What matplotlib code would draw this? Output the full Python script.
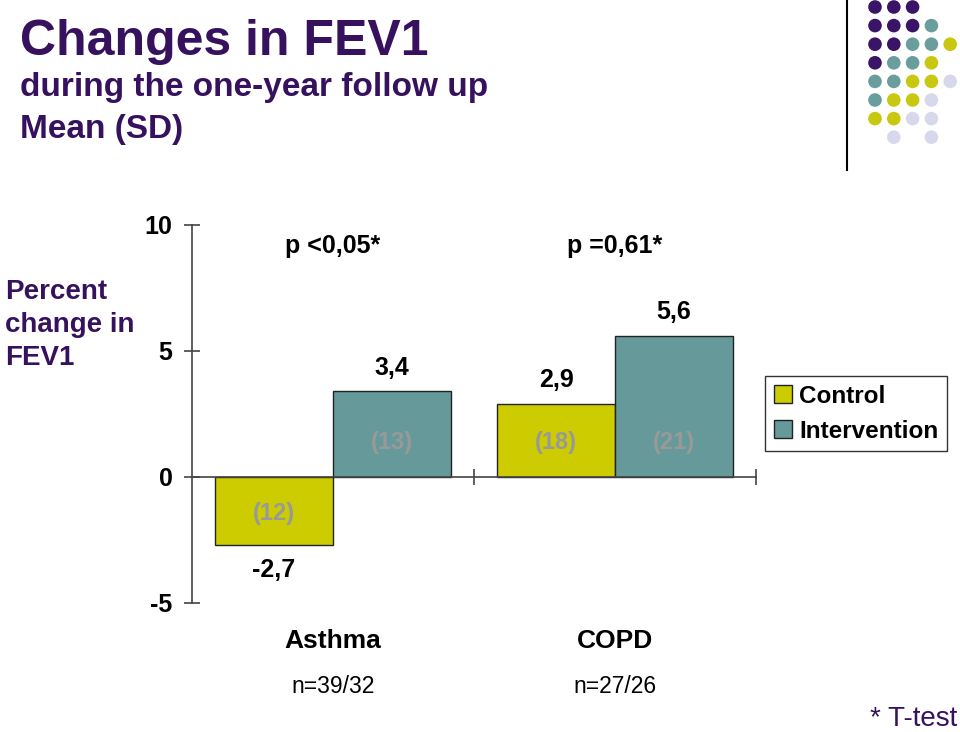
import numpy as np
import matplotlib.pyplot as plt
from matplotlib.patches import Circle
from matplotlib.lines import Line2D

plt.rcParams.update({'font.family': 'Liberation Sans'})

# data
groups = ['Asthma', 'COPD']
n_labels = ['n=39/32', 'n=27/26']
series = ['Control', 'Intervention']
control = [-2.7, 2.9]
intervention = [3.4, 5.6]
control_sd = [12, 18]
intervention_sd = [13, 21]
p_values = ['p <0,05*', 'p =0,61*']

purple = '#36115e'
colors = ['#cccc00', '#669999']
dot_colors = {'P': '#3a1466', 'T': '#6a9e9c', 'Y': '#c8c810', 'L': '#d8d8ec'}
dot_grid = ['PPP..', 'PPPT.', 'PPTTY', 'PTTY.', 'TTYYL', 'TYYL.', 'YYLL.', '.L.L.']

W, H = 960, 732
fig = plt.figure(figsize=(W / 100, H / 100), dpi=100)


def fx(x):
    return x / W


def fy(y):
    return 1 - y / H


# titles
fig.text(fx(20), fy(55), 'Changes in FEV1', fontsize=36, fontweight='bold', color=purple, va='baseline')
fig.text(fx(20), fy(96), 'during the one-year follow up', fontsize=24, fontweight='bold', color=purple, va='baseline')
fig.text(fx(20), fy(138), 'Mean (SD)', fontsize=24, fontweight='bold', color=purple, va='baseline')
fig.text(fx(5), fy(279), 'Percent\nchange in\nFEV1', fontsize=20, fontweight='bold', color=purple,
         va='top', linespacing=1.35)
fig.text(fx(957), fy(726), '* T-test', fontsize=20, color=purple, ha='right', va='baseline')

# main axes
ax = fig.add_axes([fx(192), fy(603), (756 - 192) / W, (603 - 225) / H])
x = np.arange(len(groups))
bw = 0.418
b1 = ax.bar(x - bw / 2, control, bw, color=colors[0], edgecolor='#222222', linewidth=1, label=series[0], zorder=2)
b2 = ax.bar(x + bw / 2, intervention, bw, color=colors[1], edgecolor='#222222', linewidth=1, label=series[1], zorder=2)

ax.set_xlim(-0.5, 1.5)
ax.set_ylim(-5, 10)
ax.set_yticks([-5, 0, 5, 10])
ax.set_yticklabels(['-5', '0', '5', '10'], fontsize=18, fontweight='bold')
ax.set_xticks([0.5, 1.5])
ax.set_xticklabels([])
ax.tick_params(axis='both', direction='inout', length=12, width=1.2, color='#444444')
ax.tick_params(axis='y', pad=8)
ax.spines['top'].set_visible(False)
ax.spines['right'].set_visible(False)
ax.spines['bottom'].set_position(('data', 0))
for s in ['left', 'bottom']:
    ax.spines[s].set_color('#444444')
    ax.spines[s].set_linewidth(1.2)
    ax.spines[s].set_zorder(3)

# value labels
for bars, vals, sds in [(b1, control, control_sd), (b2, intervention, intervention_sd)]:
    for b, v, sd in zip(bars, vals, sds):
        cx = b.get_x() + b.get_width() / 2
        off = 17 if v > 0 else -18
        ax.annotate(f'{v}'.replace('.', ','), (cx, v), xytext=(0, off), textcoords='offset points',
                    ha='center', va='center', fontsize=18, fontweight='bold')
        ax.text(cx, 1.35 if v > 0 else -1.45, f'({sd})', ha='center', va='center',
                fontsize=17, fontweight='bold', color='#999999', zorder=4)

# p-values and group labels
for xi, p, g, n in zip(x, p_values, groups, n_labels):
    ax.text(xi, 9.15, p, ha='center', va='center', fontsize=18, fontweight='bold')
    ax.text(xi, -0.1, g, transform=ax.get_xaxis_transform(), ha='center', va='center',
            fontsize=19, fontweight='bold')
    ax.text(xi, -0.222, n, transform=ax.get_xaxis_transform(), ha='center', va='center', fontsize=16.5)

# legend
leg = fig.legend(handles=[b1, b2], loc='upper left', bbox_to_anchor=(fx(765), fy(376)),
                 prop={'weight': 'bold', 'size': 17.5}, frameon=True, fancybox=False,
                 edgecolor='black', borderaxespad=0, handlelength=0.75, handleheight=0.75,
                 handletextpad=0.3, borderpad=0.35, labelspacing=0.5)
leg.get_frame().set_linewidth(1)

# corner decoration
deco = fig.add_axes([0, 0, 1, 1], zorder=-1)
deco.set_xlim(0, W)
deco.set_ylim(H, 0)
deco.axis('off')
deco.add_line(Line2D([847, 847], [0, 170], color='black', linewidth=1.5))
for r, row in enumerate(dot_grid):
    for c, ch in enumerate(row):
        if ch in dot_colors:
            deco.add_patch(Circle((875 + 18.8 * c, 7 + 18.6 * r), 6.8, color=dot_colors[ch], lw=0))

fig.savefig('out.png', dpi=100)
